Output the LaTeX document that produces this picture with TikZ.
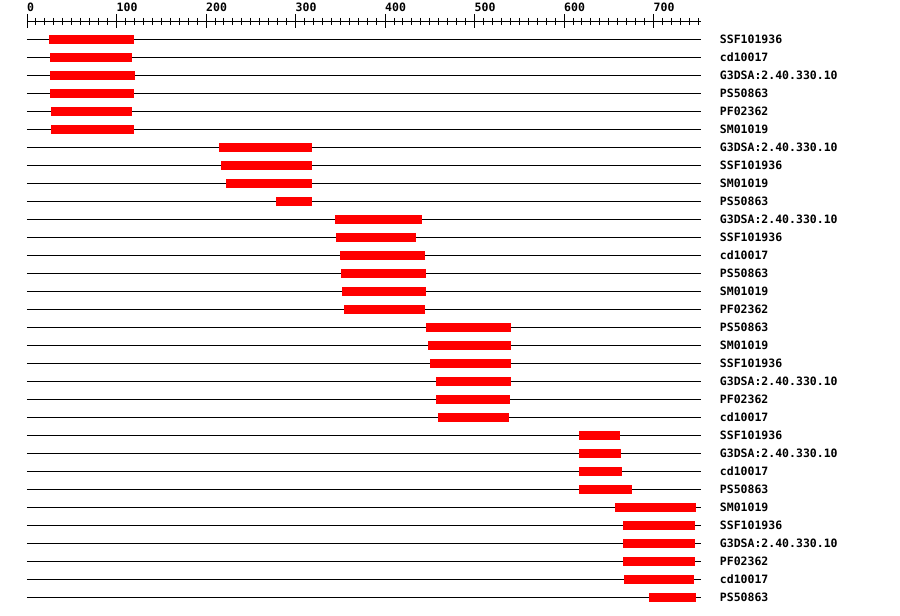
\documentclass[tikz,border=0pt]{standalone}
\usepackage{fontspec}
\setmonofont{DejaVu Sans Mono}
\usetikzlibrary{positioning}
\definecolor{domRed}{HTML}{FF0000}
\definecolor{lineCol}{HTML}{000000}
\tikzset{
  track/.style={draw=lineCol, line width=0.9pt},
  hitbar/.style={fill=domRed},
  axisline/.style={draw=lineCol, line width=0.9pt},
  domlabel/.style={font=\ttfamily\bfseries\fontsize{11.5}{12}\selectfont, inner sep=0pt, anchor=west},
  ticklabel/.style={font=\ttfamily\bfseries\fontsize{11.5}{12}\selectfont, inner sep=0pt, anchor=south west},
}
\begin{document}
\begin{tikzpicture}[x=0.895pt, y=-18pt]

  \useasboundingbox (-27pt,21pt) rectangle (873pt,-595pt);

  % Ruler
  \draw[axisline] (0,0.05) -- (753,0.05);
  \foreach \t in {0,10,...,750}{
    \draw[axisline] (\t,-0.17) -- (\t,0.22);
  }
  \foreach \t in {0,100,...,700}{
    \draw[axisline] (\t,-0.39) -- (\t,0.39);
    \node[ticklabel] (tick\t) at (\t,-0.5) {\t};
  }

  % Domain hits
  \foreach \s/\e/\lab [count=\k] in {
    25/120/SSF101936, 26/117/cd10017, 26/121/G3DSA:2.40.330.10,
    26/120/PS50863, 27/117/PF02362, 27/120/SM01019,
    214/318/G3DSA:2.40.330.10, 217/318/SSF101936, 222/318/SM01019,
    278/318/PS50863, 344/441/G3DSA:2.40.330.10, 345/435/SSF101936,
    350/445/cd10017, 351/446/PS50863, 352/446/SM01019,
    354/445/PF02362, 446/541/PS50863, 448/541/SM01019,
    450/541/SSF101936, 457/541/G3DSA:2.40.330.10, 457/540/PF02362,
    459/539/cd10017, 617/663/SSF101936, 617/664/G3DSA:2.40.330.10,
    617/665/cd10017, 617/676/PS50863, 657/748/SM01019,
    666/746/SSF101936, 666/746/G3DSA:2.40.330.10, 666/746/PF02362,
    667/745/cd10017, 695/748/PS50863}{
    \draw[track] (0,\k) -- (753,\k);
    \fill[hitbar] (\s,\k-0.25) rectangle (\e,\k+0.25);
    \node[domlabel] (lab\k) at (774,\k) {\lab};
  }

\end{tikzpicture}
\end{document}
